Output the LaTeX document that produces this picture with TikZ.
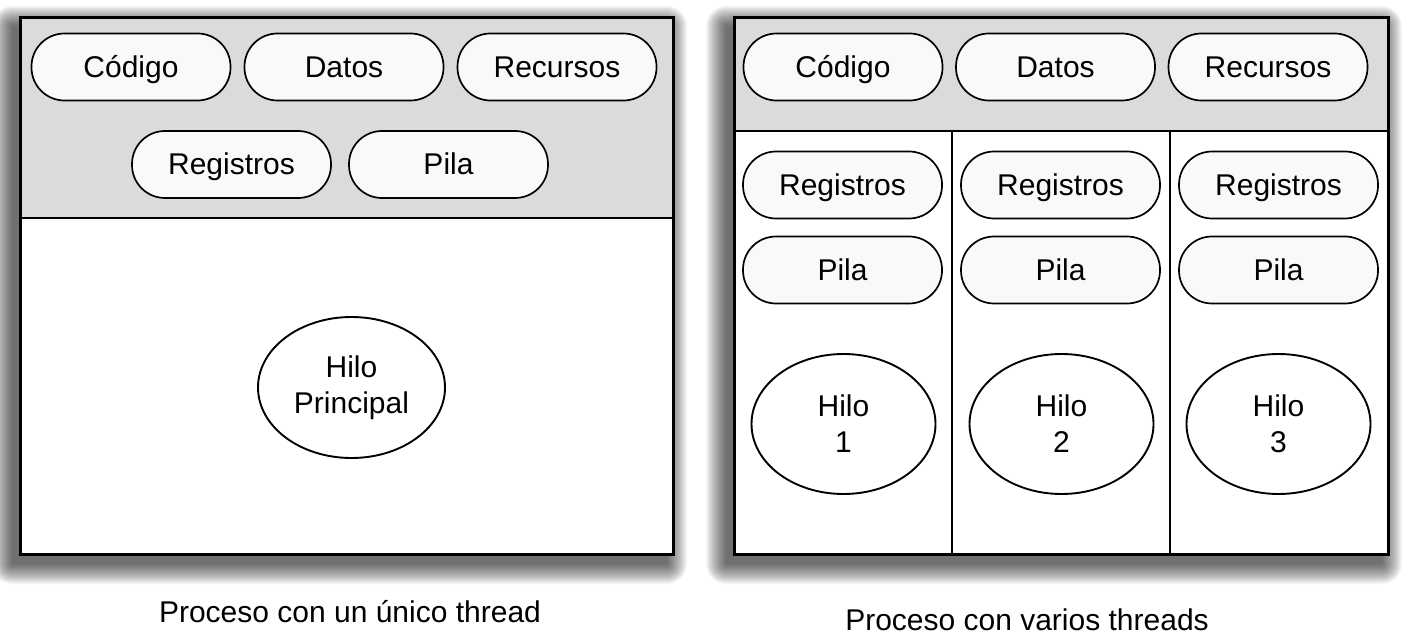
\documentclass[tikz,border=0pt]{standalone}
\usepackage{fontspec}
\setmainfont{Liberation Sans}
\usetikzlibrary{shapes.geometric}
\definecolor{panelgray}{gray}{0.86}
\definecolor{pillfill}{gray}{0.975}
\newcommand{\boxshadow}[4]{%
  \foreach \d in {20,19,...,0} {
    \fill[black,opacity=0.035,rounded corners=\d] (#1-8-\d,#2+8-\d) rectangle (#3-6+\d,#4+10+\d);
  }%
}
\tikzset{
  pill/.style={draw, line width=1.7pt, fill=pillfill, rounded corners=33pt,
    minimum width=199pt, minimum height=67pt, inner sep=0pt,
    text height=25pt, text depth=4pt,
    font=\fontsize{30}{36}\selectfont},
  hilo/.style={draw, ellipse, line width=1.9pt, fill=white, inner sep=0pt,
    minimum width=185pt, minimum height=141pt, align=center,
    font=\fontsize{30}{36}\selectfont},
  caption/.style={anchor=base, inner sep=0pt, font=\fontsize{30}{36}\selectfont},
  frame/.style={line width=3pt},
  divider/.style={line width=1.8pt}
}
\begin{document}
\begin{tikzpicture}[x=1pt,y=-1pt]
\useasboundingbox (0,0) rectangle (1407,644);
\fill[white] (0,0) rectangle (1407,644);
% ---------- left process ----------
\boxshadow{20}{18}{673}{554}
\fill[white] (20,18) rectangle (673,554);
\fill[panelgray] (20,18) rectangle (673,218);
\draw[divider] (20,218) -- (673,218);
\draw[frame] (20,18) rectangle (673,554);
\node[pill] (lcod) at (131,67) {Código};
\node[pill] (ldat) at (344,67) {Datos};
\node[pill] (lrec) at (557,67) {Recursos};
\node[pill] (lreg) at (231.5,164.5) {Registros};
\node[pill] (lpil) at (448.5,164.5) {Pila};
\node[hilo, minimum width=187pt] (lhilo) at (351.5,387.5) {Hilo\\Principal};
\node[caption] (lcap) at (350,622) {Proceso con un único thread};
% ---------- right process ----------
\boxshadow{734}{18}{1388}{554}
\fill[white] (734,18) rectangle (1388,554);
\fill[panelgray] (734,18) rectangle (1388,131);
\draw[divider] (734,131) -- (1388,131);
\draw[divider] (952,131) -- (952,554);
\draw[divider] (1170,131) -- (1170,554);
\draw[frame] (734,18) rectangle (1388,554);
\node[pill] (rcod) at (843,67) {Código};
\node[pill] (rdat) at (1055.5,67) {Datos};
\node[pill] (rrec) at (1268,67) {Recursos};
\node[pill] (rreg1) at (842.5,185) {Registros};
\node[pill] (rreg2) at (1060.5,185) {Registros};
\node[pill] (rreg3) at (1278.5,185) {Registros};
\node[pill] (rpil1) at (842.5,270) {Pila};
\node[pill] (rpil2) at (1060.5,270) {Pila};
\node[pill] (rpil3) at (1278.5,270) {Pila};
\node[hilo, minimum width=184pt, minimum height=140pt] (rh1) at (843.5,424) {Hilo\\1};
\node[hilo, minimum width=184pt, minimum height=140pt] (rh2) at (1061.5,424) {Hilo\\2};
\node[hilo, minimum width=184pt, minimum height=140pt] (rh3) at (1278.5,424) {Hilo\\3};
\node[caption] (rcap) at (1027,630) {Proceso con varios threads};
\end{tikzpicture}
\end{document}
